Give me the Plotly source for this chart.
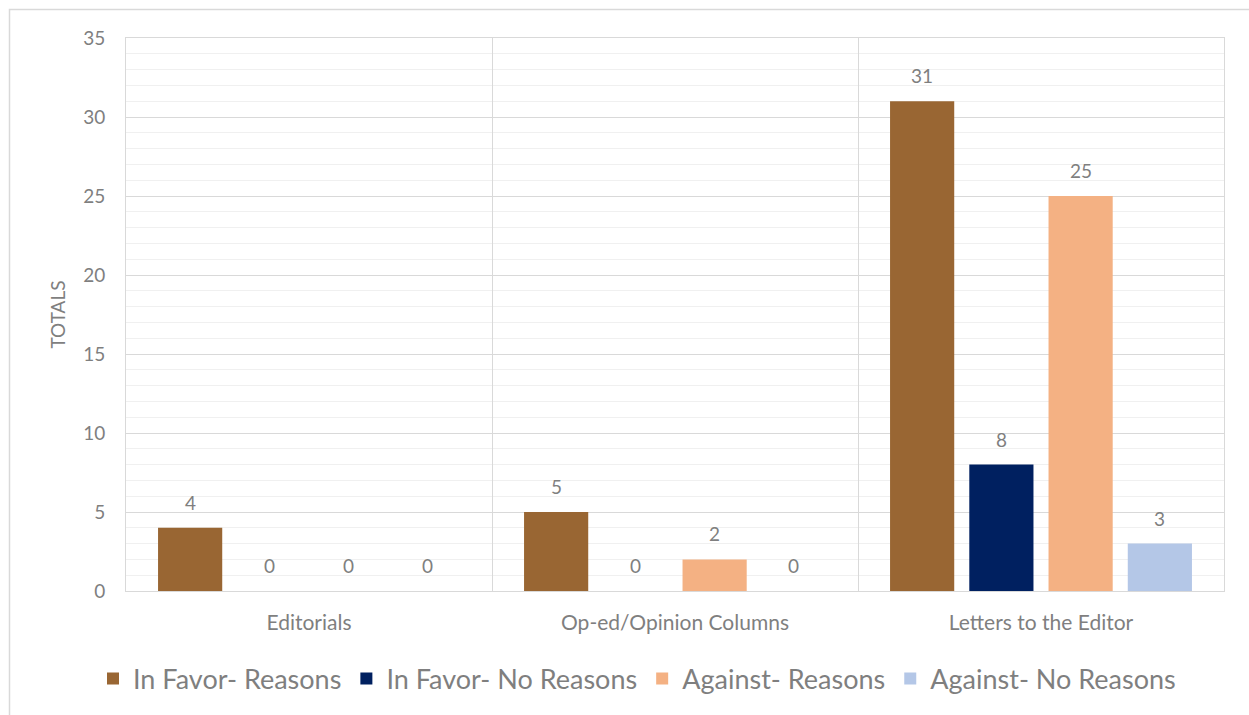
import plotly.graph_objects as go

# Article types and counts by stance
categories = ["Editorials", "Op-ed/Opinion Columns", "Letters to the Editor"]
series_names = ["In Favor- Reasons", "In Favor- No Reasons", "Against- Reasons", "Against- No Reasons"]
in_favor_reasons = [4, 5, 31]
in_favor_no_reasons = [0, 0, 8]
against_reasons = [0, 2, 25]
against_no_reasons = [0, 0, 3]
series_values = [in_favor_reasons, in_favor_no_reasons, against_reasons, against_no_reasons]
colors = ["#996633", "#002060", "#F4B183", "#B4C7E7"]
y_ticks = [0, 5, 10, 15, 20, 25, 30, 35]

FONT = "Lato"
GRAY = "#7f7f7f"
BARGAP = 0.134
GROUPGAP = 0.19

# plot area in pixels: x 126..1224, y 38..591
W, H = 1249, 715
L, R, T, B = 126, 25, 38, 124
pw, ph = W - L - R, H - T - B

def px_x(x):
    return (x - L) / pw

def px_y(y):
    return (H - B - y) / ph

fig = go.Figure()
for name, vals, col in zip(series_names, series_values, colors):
    fig.add_trace(go.Bar(
        name=name,
        x=categories,
        y=vals,
        marker=dict(color=col, line=dict(width=0)),
    ))

# value labels above each bar, offset to the bar's slot within its group
n = len(series_names)
slot_px = pw / len(categories) * (1 - BARGAP) / n
annotations = []
for i, vals in enumerate(series_values):
    for cat, v in zip(categories, vals):
        annotations.append(dict(
            x=cat, y=v, xref="x", yref="y",
            text=str(v), showarrow=False,
            xshift=(i - (n - 1) / 2) * slot_px,
            yanchor="bottom", yshift=12,
            font=dict(family=FONT, size=19, color=GRAY),
        ))

fig.update_layout(
    width=W, height=H,
    margin=dict(l=L, r=R, t=T, b=B),
    paper_bgcolor="white",
    plot_bgcolor="white",
    barmode="group",
    bargap=BARGAP,
    bargroupgap=GROUPGAP,
    font=dict(family=FONT, color=GRAY),
    showlegend=True,
    legend=dict(
        orientation="h",
        x=px_x(637), xanchor="center",
        y=px_y(679), yanchor="middle",
        font=dict(family=FONT, size=27, color=GRAY),
        itemwidth=30,
        traceorder="normal",
    ),
    annotations=annotations,
    xaxis=dict(
        type="category",
        tickson="boundaries",
        showgrid=True,
        gridcolor="#d9d9d9",
        gridwidth=1,
        showline=True, mirror=True, linecolor="#d9d9d9", linewidth=1,
        ticks="",
        tickfont=dict(family=FONT, size=21, color=GRAY),
        ticklabelstandoff=13,
    ),
    yaxis=dict(
        range=[0, 35],
        tickvals=y_ticks,
        showgrid=True,
        gridcolor="#d9d9d9",
        gridwidth=1,
        minor=dict(dtick=1, showgrid=True, gridcolor="#f0f0f0", gridwidth=1),
        showline=True, mirror=True, linecolor="#d9d9d9", linewidth=1,
        zeroline=False,
        ticks="",
        tickfont=dict(family=FONT, size=19, color=GRAY),
        ticklabelstandoff=16,
        title=dict(text="TOTALS", font=dict(family=FONT, size=19, color=GRAY), standoff=12),
    ),
    shapes=[dict(
        type="rect", xref="paper", yref="paper", layer="below",
        x0=px_x(9.5), x1=px_x(1252), y0=px_y(718), y1=px_y(9.5),
        line=dict(color="#d9d9d9", width=1.5), fillcolor="rgba(0,0,0,0)",
    )],
)

fig.write_html("out.html")
